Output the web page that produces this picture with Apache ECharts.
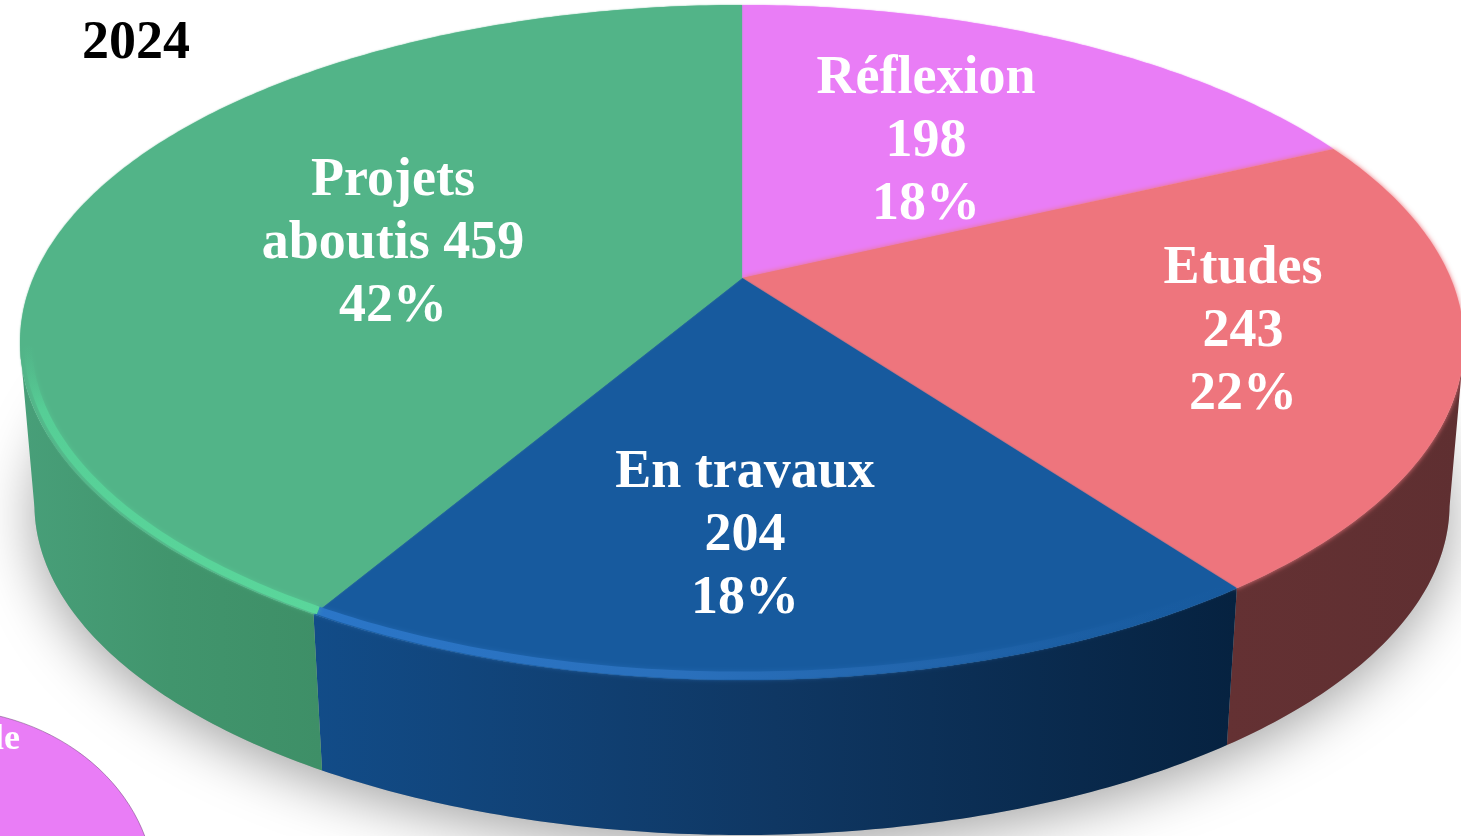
<!DOCTYPE html>
<html><head><meta charset="utf-8">
<style>html,body{margin:0;padding:0;background:#fff;overflow:hidden}#c{width:1461px;height:836px}</style>
<script src="https://cdn.jsdelivr.net/npm/echarts@6/dist/echarts.min.js"></script>
</head><body><div id="c"></div>
<script>
// ---- data ----
const yearLabel = '2024';
const sliceNames = ['Réflexion', 'Etudes', 'En travaux', 'Projets\naboutis'];
const sliceValues = [198, 243, 204, 459];
const slicePercents = ['18%', '22%', '18%', '42%'];
const nameSeparators = ['\n', '\n', '\n', ' '];
const croppedLabel = 'le';

// ---- styling ----
const topColors = ['#E97DF6', '#EE757D', '#175A9E', '#52B488'];
const sideStops = [
  ['#A050B0', '#A050B0'],
  ['#643133', '#5F2F31'],
  ['#124C88', '#0F3763', '#062240'],
  ['#489F79', '#41956D', '#3E8F67']
];
const labelAnchors = [[926, 142], [1243, 332], [745, 536], [393, 244]];
const SERIF = '"Liberation Serif", "Times New Roman", serif';

// perspective of the pie's disc
const CX = 742, CY = 278, K = 0.1911, A = 325.2, B = 708.7;
const DEPTH = 163, SHRINK = 0.98;

function rim(theta, f) {
  const d = 1 + K * Math.cos(theta);
  return [CX + f * B * Math.sin(theta) / d, CY - f * A * Math.cos(theta) / d];
}
function floorRim(theta) {
  const p = rim(theta, SHRINK);
  return [p[0], p[1] + DEPTH];
}
function sampleAngles(a0, a1) {
  const n = Math.max(8, Math.ceil((a1 - a0) / 0.012));
  const out = [];
  for (let i = 0; i <= n; i++) out.push(a0 + (a1 - a0) * i / n);
  return out;
}
const total = sliceValues.reduce((s, v) => s + v, 0);
function sliceRange(idx) {
  let sum = 0;
  for (let i = 0; i < idx; i++) sum += sliceValues[i];
  return [sum / total * 2 * Math.PI, (sum + sliceValues[idx]) / total * 2 * Math.PI];
}
function frontAngles(angles) {
  return angles.filter(t => rim(t + 0.004, 1)[0] < rim(t, 1)[0]);
}
function stops(cols) {
  return cols.map((c, i) => ({ offset: i / (cols.length - 1), color: c }));
}

function renderSlice(params, api) {
  const i = api.value(0);
  const [a0, a1] = sliceRange(i);
  const angles = sampleAngles(a0, a1);
  const front = frontAngles(angles);
  const children = [];

  // side wall
  if (front.length > 1) {
    const pts = front.map(t => rim(t, 1)).concat(front.slice().reverse().map(floorRim));
    children.push({
      type: 'polygon', z2: 1, silent: true,
      shape: { points: pts },
      style: { fill: new echarts.graphic.LinearGradient(0, 0, 1, 0, stops(sideStops[i])) }
    });
  }
  // top face
  const facePts = [[CX, CY]].concat(angles.map(t => rim(t, 1)));
  children.push({
    type: 'polygon', z2: 2, silent: true,
    shape: { points: facePts },
    style: { fill: topColors[i], shadowBlur: i === 1 ? 5 : 1.5, shadowColor: topColors[i] }
  });
  // lit bevel along the front rim
  if (i === 2 && front.length > 1) {
    children.push({
      type: 'polyline', z2: 3, silent: true,
      shape: { points: front.map(t => rim(t, 0.989)) },
      style: {
        fill: 'none', lineWidth: 8, shadowBlur: 5, shadowColor: 'rgba(43,116,196,0.5)',
        stroke: new echarts.graphic.LinearGradient(0, 0, 1, 0, [
          { offset: 0, color: '#2B76C8' }, { offset: 0.4, color: '#2A70BC' },
          { offset: 0.7, color: 'rgba(38,104,175,0.5)' }, { offset: 1, color: 'rgba(23,90,158,0)' }
        ])
      }
    });
  }
  if (i === 3 && front.length > 1) {
    children.push({
      type: 'polyline', z2: 3, silent: true,
      shape: { points: front.map(t => rim(t, 0.989)) },
      style: {
        fill: 'none', lineWidth: 8, shadowBlur: 5, shadowColor: 'rgba(90,214,155,0.5)',
        stroke: new echarts.graphic.LinearGradient(0, 0, 0, 1, [
          { offset: 0, color: 'rgba(82,180,136,0)' }, { offset: 0.25, color: '#56CE96' },
          { offset: 1, color: '#5AD69B' }
        ])
      }
    });
  }
  // label
  children.push({
    type: 'text', z2: 5, silent: true,
    style: {
      text: sliceNames[i] + nameSeparators[i] + api.value(1) + '\n' + slicePercents[i],
      x: labelAnchors[i][0], y: labelAnchors[i][1],
      fill: '#fff', align: 'center', verticalAlign: 'middle',
      font: 'bold 54px ' + SERIF, lineHeight: 63
    }
  });
  return { type: 'group', children };
}

function renderShadow() {
  const pts = sampleAngles(0, 2 * Math.PI).map(floorRim);
  return {
    type: 'polygon', z2: 0, silent: true,
    shape: { points: pts },
    style: { fill: '#aaa', shadowBlur: 55, shadowColor: 'rgba(0,0,0,0.36)', shadowOffsetY: 12 }
  };
}

const chart = echarts.init(document.getElementById('c'), null, { renderer: 'canvas', width: 1461, height: 836 });
chart.setOption({
  animation: false,
  backgroundColor: '#ffffff',
  title: {
    text: yearLabel, left: 82, top: 16, padding: 0,
    textStyle: { color: '#000', fontFamily: SERIF, fontWeight: 'bold', fontSize: 54, lineHeight: 56 }
  },
  graphic: [
    { type: 'ellipse', z: 1, silent: true,
      shape: { cx: -60, cy: 892, rx: 215, ry: 183 },
      style: { fill: '#E97DF6', stroke: 'rgba(110,60,120,0.5)', lineWidth: 1 } },
    { type: 'text', z: 2, silent: true, x: 20, y: 740,
      style: { text: croppedLabel, fill: '#fff', align: 'right', verticalAlign: 'middle', font: 'bold 36px ' + SERIF } }
  ],
  series: [
    { type: 'custom', coordinateSystem: 'none', z: 3, silent: true, renderItem: renderShadow, data: [0], animation: false },
    { type: 'custom', coordinateSystem: 'none', z: 4, silent: true, renderItem: renderSlice, animation: false,
      encode: { itemName: 2 },
      data: sliceValues.map((v, i) => [i, v, sliceNames[i]]) }
  ]
});
</script></body></html>
